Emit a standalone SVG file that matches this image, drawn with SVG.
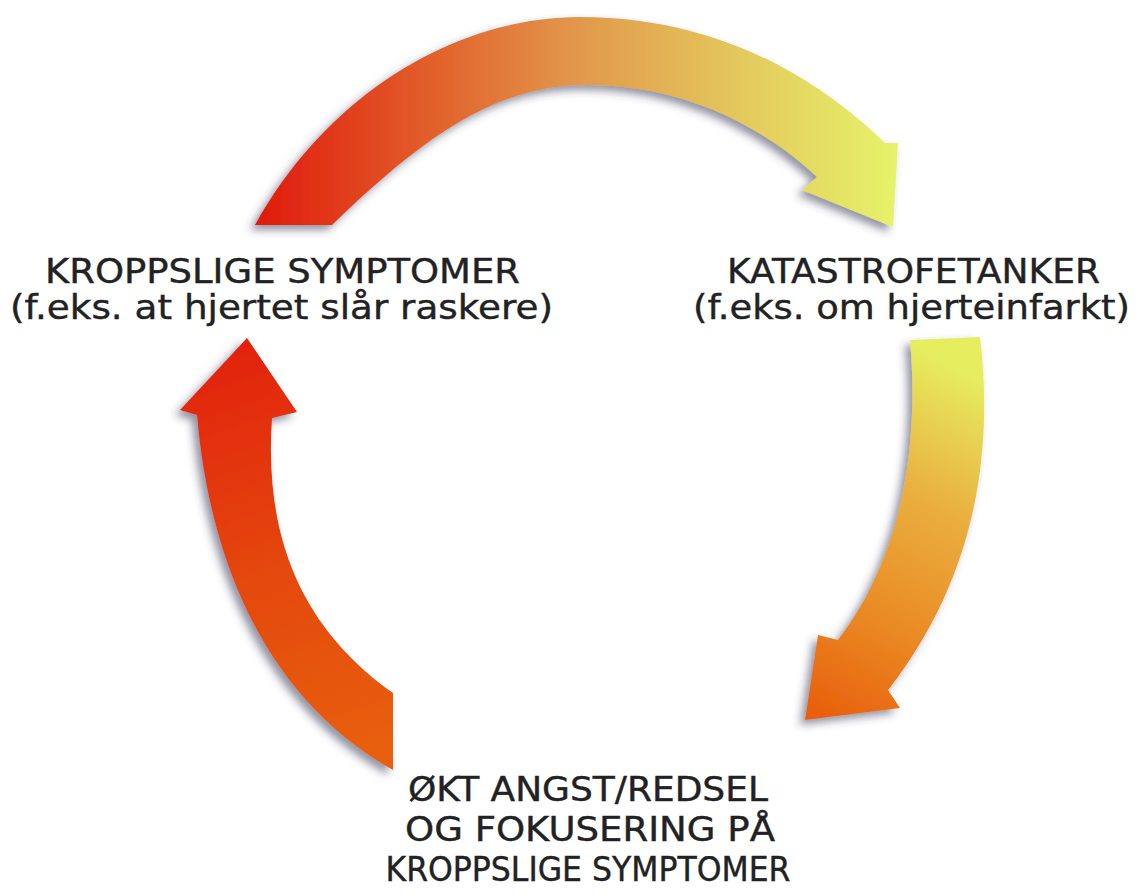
<svg xmlns="http://www.w3.org/2000/svg" width="1142" height="894" viewBox="0 0 1142 894">
  <defs>
    <style>
      .lbl { font-family: "DejaVu Sans", "Liberation Sans", sans-serif; font-size: 33px; fill: #222222; stroke: #222222; stroke-width: 0.4px; text-anchor: middle; }
      .arrow { filter: url(#shadow); }
    </style>
    <filter id="shadow" x="-20%" y="-20%" width="140%" height="140%">
      <feDropShadow dx="-5" dy="5" stdDeviation="4" flood-color="#3a3a5a" flood-opacity="0.55"/>
    </filter>
    <linearGradient id="gTop" gradientUnits="userSpaceOnUse" x1="255" y1="0" x2="900" y2="0">
      <stop offset="0" stop-color="#e01a0c"/>
      <stop offset="0.3" stop-color="#e2662e"/>
      <stop offset="0.5" stop-color="#e2984c"/>
      <stop offset="0.75" stop-color="#e4c85c"/>
      <stop offset="1" stop-color="#e6f46a"/>
    </linearGradient>
    <linearGradient id="gRight" gradientUnits="userSpaceOnUse" x1="985" y1="380" x2="810" y2="710">
      <stop offset="0" stop-color="#e6ee60"/>
      <stop offset="0.35" stop-color="#eab040"/>
      <stop offset="0.7" stop-color="#ea8a24"/>
      <stop offset="1" stop-color="#e8600c"/>
    </linearGradient>
    <linearGradient id="gLeft" gradientUnits="userSpaceOnUse" x1="240" y1="340" x2="390" y2="770">
      <stop offset="0" stop-color="#e2220c"/>
      <stop offset="0.5" stop-color="#e4480c"/>
      <stop offset="1" stop-color="#e8620c"/>
    </linearGradient>
  </defs>

  <rect width="1142" height="894" fill="#ffffff"/>

  <g id="connectors">
    <path id="arrow-top" class="arrow" fill="url(#gTop)"
      d="M255,225 C330,90 460,17 580,17 C720,17 820,80 885,143 L898,143 L893,227 L802,190 L817,177 C750,115 670,85 587,85 C500,85 430,130 332,225 Z"/>
    <path id="arrow-right" class="arrow" fill="url(#gRight)"
      d="M910,340 L980,337 C990,420 990,560 888,690 L900,708 L805,720 L818,635 L838,640 C900,560 920,450 910,340 Z"/>
    <path id="arrow-left" class="arrow" fill="url(#gLeft)"
      d="M247,338 L297,412 L272,418 C265,520 290,620 393,693 L393,770 C268,700 210,565 197,415 L180,410 Z"/>
  </g>

  <g id="node-symptoms">
    <text class="lbl" x="282.5" y="283" textLength="475" lengthAdjust="spacingAndGlyphs">KROPPSLIGE SYMPTOMER</text>
    <text class="lbl" x="281.5" y="319" textLength="543" lengthAdjust="spacingAndGlyphs">(f.eks. at hjertet slår raskere)</text>
  </g>

  <g id="node-thoughts">
    <text class="lbl" x="913.5" y="283" textLength="373" lengthAdjust="spacingAndGlyphs">KATASTROFETANKER</text>
    <text class="lbl" x="911.5" y="319" textLength="437" lengthAdjust="spacingAndGlyphs">(f.eks. om hjerteinfarkt)</text>
  </g>

  <g id="node-anxiety">
    <text class="lbl" x="588" y="801" textLength="360" lengthAdjust="spacingAndGlyphs">ØKT ANGST/REDSEL</text>
    <text class="lbl" x="590" y="841" textLength="370" lengthAdjust="spacingAndGlyphs">OG FOKUSERING PÅ</text>
    <text class="lbl" x="588" y="881" textLength="405" lengthAdjust="spacingAndGlyphs">KROPPSLIGE SYMPTOMER</text>
  </g>
</svg>
